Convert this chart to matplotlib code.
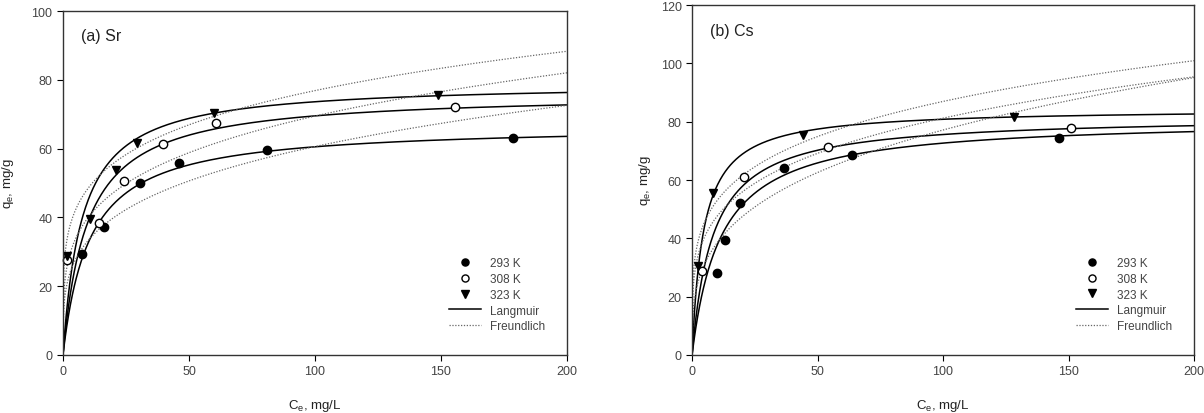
import numpy as np
import matplotlib
matplotlib.use('Agg')
import matplotlib.pyplot as plt

plt.rcParams['font.family'] = ['Liberation Sans', 'DejaVu Sans']

# (a) Sr - measured points
sr_c_293 = [7.5, 16.2, 30.7, 46.0, 80.8, 178.5]
sr_q_293 = [29.5, 37.3, 49.9, 55.9, 59.6, 63.1]
sr_c_308 = [1.6, 14.2, 24.2, 39.7, 60.9, 155.6]
sr_q_308 = [27.6, 38.4, 50.7, 61.3, 67.4, 72.2]
sr_c_323 = [1.6, 10.6, 20.9, 29.4, 60.0, 149.0]
sr_q_323 = [28.9, 39.4, 53.7, 61.7, 70.3, 75.5]

# (b) Cs - measured points
cs_c_293 = [10.0, 13.0, 19.3, 36.6, 63.6, 146.4]
cs_q_293 = [28.1, 39.5, 52.1, 64.1, 68.6, 74.3]
cs_c_308 = [4.0, 20.6, 54.3, 151.0]
cs_q_308 = [28.9, 61.1, 71.2, 77.8]
cs_c_323 = [2.3, 8.4, 44.2, 128.4]
cs_q_323 = [30.6, 55.5, 75.4, 81.5]

# model parameters (293, 308, 323 K)
sr_langmuir = [(66.9, 0.095), (76.2, 0.104), (79.2, 0.132)]   # qm, KL
sr_freundlich = [(18.3, 0.26), (23.0, 0.24), (30.6, 0.20)]     # KF, 1/n
cs_langmuir = [(81.0, 0.087), (81.9, 0.120), (84.5, 0.220)]
cs_freundlich = [(19.2, 0.302), (27.9, 0.232), (32.3, 0.215)]

c_fit = np.linspace(0, 200, 801)
gray = '#444444'
dot = (0, (1, 1.3))


def draw_panel(ax, pts, lang, freu, label, ymax):
    for (qm, kl) in lang:
        ax.plot(c_fit, qm * kl * c_fit / (1 + kl * c_fit), color='black', lw=1.1)
    for (kf, n_inv) in freu:
        ax.plot(c_fit, kf * c_fit ** n_inv, color='#666666', lw=0.9, ls=dot)
    (c1, q1), (c2, q2), (c3, q3) = pts
    h1, = ax.plot(c1, q1, 'o', color='black', ms=6, ls='none', clip_on=False)
    h2, = ax.plot(c2, q2, 'o', mfc='white', mec='black', mew=1.0, ms=6, ls='none', clip_on=False)
    h3, = ax.plot(c3, q3, 'v', color='black', ms=6, ls='none', clip_on=False)
    hl, = ax.plot([], [], color='black', lw=1.1)
    hf, = ax.plot([], [], color='#666666', lw=0.9, ls=dot)
    ax.legend([h1, h2, h3, hl, hf], ['293 K', '308 K', '323 K', 'Langmuir', 'Freundlich'],
              frameon=False, fontsize=8.5, loc='lower right', bbox_to_anchor=(0.978, 0.035),
              handlelength=2.7, labelspacing=0.32, handletextpad=0.75, labelcolor=gray,
              markerscale=0.85)
    ax.set_xlim(0, 200)
    ax.set_ylim(0, ymax)
    ax.set_xticks([0, 50, 100, 150, 200])
    ax.tick_params(direction='out', length=4, labelsize=9, labelcolor=gray, top=False, right=False)
    for s in ax.spines.values():
        s.set_color('#333333')
        s.set_linewidth(1.0)
    ax.text(0.035, 0.915, label, transform=ax.transAxes, fontsize=11.5, color='#222222')
    ax.set_xlabel('C$_\\mathregular{e}$, mg/L', fontsize=9.5, color='#222222', labelpad=14)
    ax.set_ylabel('q$_\\mathregular{e}$, mg/g', fontsize=9.5, color='#222222')


fig = plt.figure(figsize=(12.04, 4.14), dpi=100)
ax1 = fig.add_axes([0.0523, 0.1401, 0.4186, 0.8309])
ax2 = fig.add_axes([0.5748, 0.1401, 0.4169, 0.8454])

draw_panel(ax1, [(sr_c_293, sr_q_293), (sr_c_308, sr_q_308), (sr_c_323, sr_q_323)],
           sr_langmuir, sr_freundlich, '(a) Sr', 100)
draw_panel(ax2, [(cs_c_293, cs_q_293), (cs_c_308, cs_q_308), (cs_c_323, cs_q_323)],
           cs_langmuir, cs_freundlich, '(b) Cs', 120)
ax1.set_yticks([0, 20, 40, 60, 80, 100])
ax2.set_yticks([0, 20, 40, 60, 80, 100, 120])
ax1.yaxis.set_label_coords(-0.093, 0.5)
ax2.yaxis.set_label_coords(-0.078, 0.5)

fig.savefig('out.png', dpi=100)
